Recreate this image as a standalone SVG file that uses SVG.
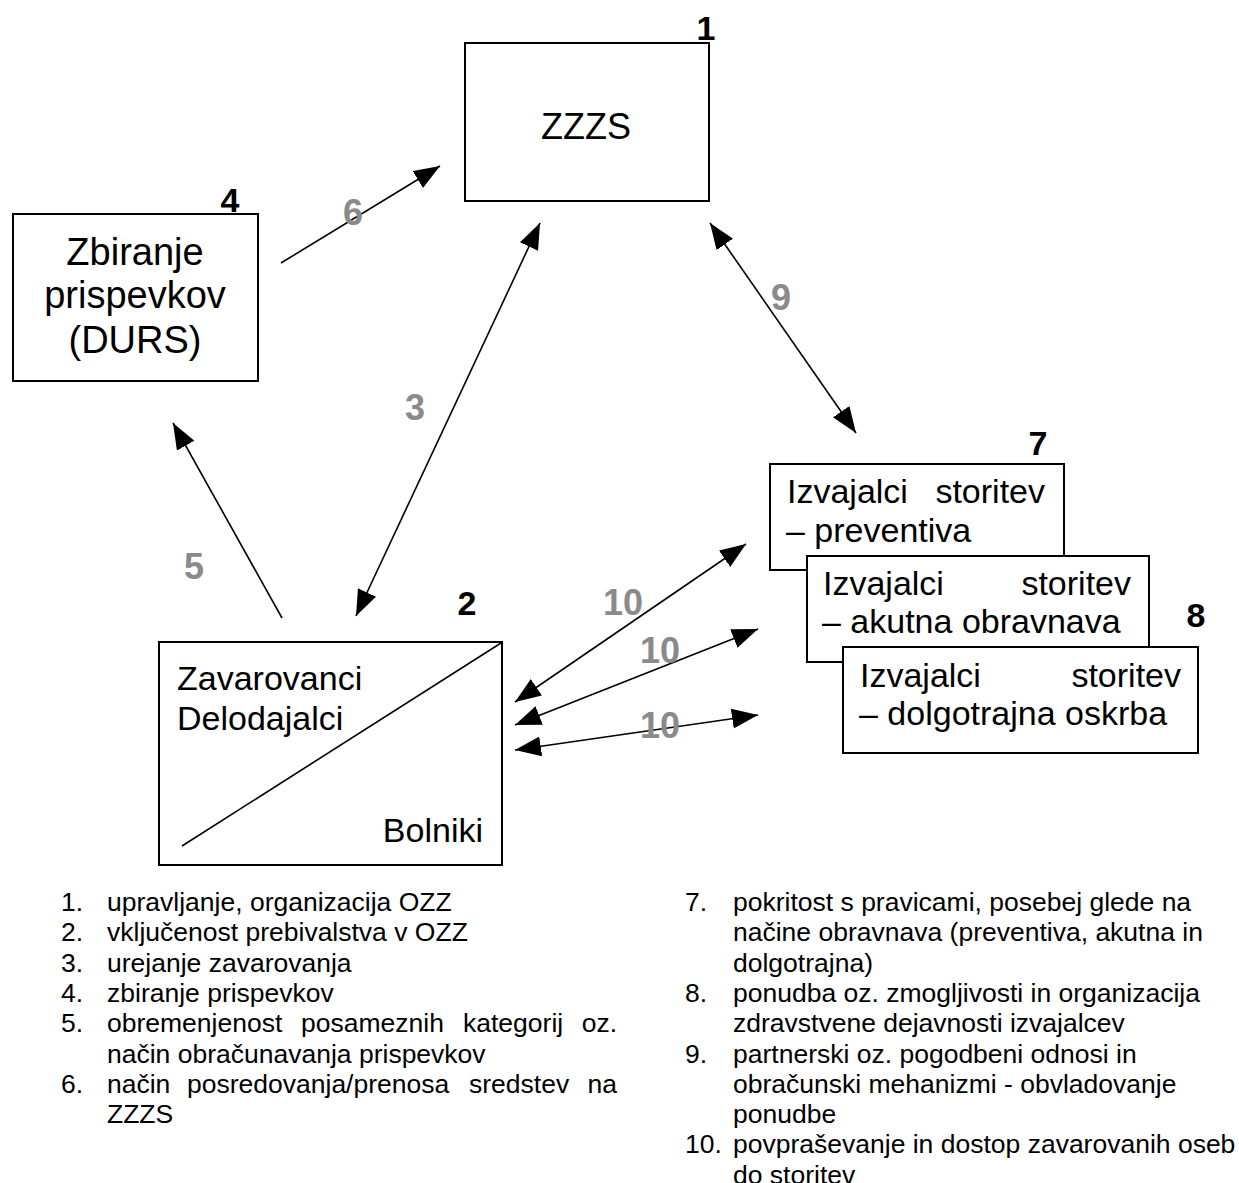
<svg xmlns="http://www.w3.org/2000/svg" width="1239" height="1183" viewBox="0 0 1239 1183">
<defs>
<style>
.box{fill:#fff;stroke:#000;stroke-width:2}
.t{font-family:"Liberation Sans",Arial,sans-serif;fill:#000}
.big{font-size:34px}
.num{font-family:"Liberation Sans",Arial,sans-serif;font-weight:bold;font-size:34px;fill:#000;text-anchor:middle}
.lbl{font-family:"Liberation Sans",Arial,sans-serif;font-weight:bold;font-size:36px;fill:#8a8a8a;text-anchor:middle}
.leg{font-family:"Liberation Sans",Arial,sans-serif;font-size:26.5px;fill:#000}
.ln{stroke:#000;stroke-width:1.6;fill:none}
</style>
<marker id="ah" markerUnits="userSpaceOnUse" markerWidth="28" markerHeight="22" refX="26" refY="10" orient="auto-start-reverse">
<path d="M0,0 L26,10 L0,20 z" fill="#000"/>
</marker>
</defs>
<rect width="1239" height="1183" fill="#fff"/>

<g id="node-zzzs">
<rect class="box" x="465" y="43" width="244" height="158"/>
<text class="t" x="586" y="139" font-size="36" text-anchor="middle">ZZZS</text>
<text class="num" x="706" y="40">1</text>
</g>

<g id="node-durs">
<rect class="box" x="13" y="214" width="245" height="167"/>
<text class="t" x="135" y="265" font-size="38" text-anchor="middle">Zbiranje</text>
<text class="t" x="135" y="308" font-size="38" text-anchor="middle">prispevkov</text>
<text class="t" x="135" y="353" font-size="38" text-anchor="middle">(DURS)</text>
<text class="num" x="230" y="212">4</text>
</g>

<g id="node-zavarovanci">
<rect class="box" x="159" y="642" width="343" height="223"/>
<line x1="182" y1="846" x2="501" y2="643" stroke="#000" stroke-width="1.6"/>
<text class="t big" x="177" y="690">Zavarovanci</text>
<text class="t big" x="177" y="730">Delodajalci</text>
<text class="t big" x="483" y="842" text-anchor="end">Bolniki</text>
<text class="num" x="467" y="615">2</text>
</g>

<g id="node-preventiva">
<rect class="box" x="770" y="464" width="294" height="106"/>
<text class="t big" y="503"><tspan x="787">Izvajalci</tspan><tspan x="1045" text-anchor="end">storitev</tspan></text>
<text class="t big" x="786" y="542">– preventiva</text>
<text class="num" x="1038" y="455">7</text>
</g>

<g id="node-akutna">
<rect class="box" x="807" y="556" width="342" height="106"/>
<text class="t big" y="595"><tspan x="823">Izvajalci</tspan><tspan x="1131" text-anchor="end">storitev</tspan></text>
<text class="t big" x="822" y="633">– akutna obravnava</text>
</g>

<g id="node-dolgotrajna">
<rect class="box" x="843" y="647" width="355" height="106"/>
<text class="t big" y="687"><tspan x="860">Izvajalci</tspan><tspan x="1181" text-anchor="end">storitev</tspan></text>
<text class="t big" x="859" y="725">– dolgotrajna oskrba</text>
<text class="num" x="1196" y="627">8</text>
</g>

<g id="connectors">
<line class="ln" x1="281" y1="263" x2="440" y2="166" marker-end="url(#ah)"/>
<line class="ln" x1="356" y1="616" x2="540" y2="223" marker-start="url(#ah)" marker-end="url(#ah)"/>
<line class="ln" x1="282" y1="618" x2="173" y2="423" marker-end="url(#ah)"/>
<line class="ln" x1="710" y1="223" x2="856" y2="433" marker-start="url(#ah)" marker-end="url(#ah)"/>
<line class="ln" x1="515" y1="702" x2="746" y2="544" marker-start="url(#ah)" marker-end="url(#ah)"/>
<line class="ln" x1="515" y1="725" x2="758" y2="629" marker-start="url(#ah)" marker-end="url(#ah)"/>
<line class="ln" x1="515" y1="750" x2="758" y2="715" marker-start="url(#ah)" marker-end="url(#ah)"/>
<text class="lbl" x="353" y="225">6</text>
<text class="lbl" x="415" y="420">3</text>
<text class="lbl" x="194" y="579">5</text>
<text class="lbl" x="781" y="310">9</text>
<text class="lbl" x="623" y="615">10</text>
<text class="lbl" x="660" y="663">10</text>
<text class="lbl" x="660" y="738">10</text>
</g>

<g id="legend-left">
<text class="leg" x="61" y="911">1.</text><text class="leg" x="107" y="911">upravljanje, organizacija OZZ</text>
<text class="leg" x="61" y="941.3">2.</text><text class="leg" x="107" y="941.3">vključenost prebivalstva v OZZ</text>
<text class="leg" x="61" y="971.6">3.</text><text class="leg" x="107" y="971.6">urejanje zavarovanja</text>
<text class="leg" x="61" y="1001.9">4.</text><text class="leg" x="107" y="1001.9">zbiranje prispevkov</text>
<text class="leg" x="61" y="1032.2">5.</text><text class="leg" y="1032.2"><tspan x="107">obremenjenost</tspan> <tspan x="301">posameznih</tspan> <tspan x="463">kategorij</tspan> <tspan x="617" text-anchor="end">oz.</tspan></text>
<text class="leg" x="107" y="1062.5">način obračunavanja prispevkov</text>
<text class="leg" x="61" y="1092.8">6.</text><text class="leg" y="1092.8"><tspan x="107">način</tspan> <tspan x="187">posredovanja/prenosa</tspan> <tspan x="469">sredstev</tspan> <tspan x="617" text-anchor="end">na</tspan></text>
<text class="leg" x="107" y="1123.1">ZZZS</text>
</g>

<g id="legend-right">
<text class="leg" x="685" y="911">7.</text><text class="leg" x="733" y="911">pokritost s pravicami, posebej glede na</text>
<text class="leg" x="733" y="941.3">načine obravnava (preventiva, akutna in</text>
<text class="leg" x="733" y="971.6">dolgotrajna)</text>
<text class="leg" x="685" y="1001.9">8.</text><text class="leg" x="733" y="1001.9">ponudba oz. zmogljivosti in organizacija</text>
<text class="leg" x="733" y="1032.2">zdravstvene dejavnosti izvajalcev</text>
<text class="leg" x="685" y="1062.5">9.</text><text class="leg" x="733" y="1062.5">partnerski oz. pogodbeni odnosi in</text>
<text class="leg" x="733" y="1092.8">obračunski mehanizmi - obvladovanje</text>
<text class="leg" x="733" y="1123.1">ponudbe</text>
<text class="leg" x="685" y="1153.4">10.</text><text class="leg" x="733" y="1153.4">povpraševanje in dostop zavarovanih oseb</text>
<text class="leg" x="733" y="1183.7">do storitev</text>
</g>
</svg>
